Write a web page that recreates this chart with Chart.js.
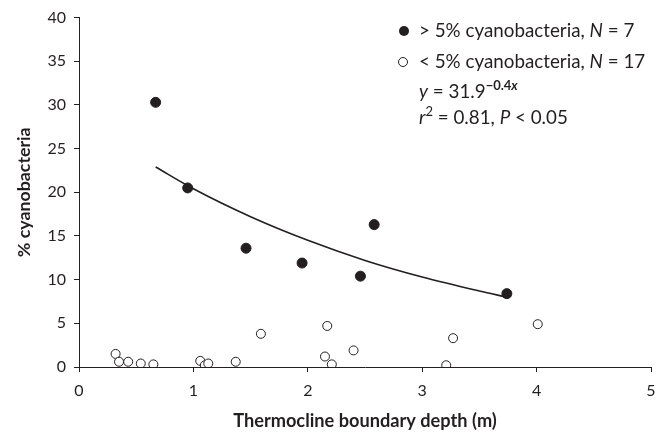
<!DOCTYPE html>
<html>
<head>
<meta charset="utf-8">
<script src="https://cdn.jsdelivr.net/npm/chart.js@4.4.1/dist/chart.umd.min.js"></script>
<style>
  html, body { margin: 0; padding: 0; background: #fff; }
  #wrap { width: 667px; height: 433px; }
</style>
</head>
<body>
<div id="wrap"><canvas id="cyanoChart" width="667" height="433"></canvas></div>
<script>
// lakes with > 5% cyanobacteria
const highDepth = [0.67, 0.95, 1.46, 1.95, 2.46, 2.58, 3.74];
const highPct = [30.3, 20.5, 13.6, 11.9, 10.4, 16.3, 8.4];

// lakes with < 5% cyanobacteria
const lowDepth = [0.32, 0.35, 0.43, 0.54, 0.65, 1.06, 1.10, 1.13, 1.37, 1.59, 2.15, 2.17, 2.21, 2.40, 3.21, 3.27, 4.01];
const lowPct = [1.5, 0.6, 0.6, 0.4, 0.3, 0.7, 0.2, 0.4, 0.6, 3.8, 1.2, 4.7, 0.3, 1.9, 0.2, 3.3, 4.9];

// fitted curve
const fitDepth = [0.67, 1.0, 1.5, 2.0, 2.5, 3.0, 3.5, 3.74];
const fitPct = [22.9, 20.4, 17.2, 14.5, 12.2, 10.3, 8.7, 8.0];

const toXY = (xs, ys) => xs.map((x, i) => ({ x: x, y: ys[i] }));

const FONT = 'Lato, "Open Sans", sans-serif';
const INK = '#231f20';
const X_TITLE = 'Thermocline boundary depth (m)';
const Y_TITLE = '% cyanobacteria';

// pick a font size so the text spans about the same width as in the original
const measure = document.createElement('canvas').getContext('2d');
function fitSize(text, weight, width) {
  measure.font = weight + ' 20px ' + FONT;
  return Math.round(20 * width / measure.measureText(text).width * 10) / 10;
}
const xTitleSize = fitSize(X_TITLE, 'bold', 264);
const yTitleSize = fitSize(Y_TITLE, 'bold', 130);
const legendSize = fitSize('> 5% cyanobacteria, N = 7', 'normal', 216);

// legend + equation drawn as text in the top right corner
const legendText = {
  id: 'legendText',
  afterDraw(chart) {
    const ctx = chart.ctx;
    ctx.save();
    ctx.fillStyle = INK;
    ctx.strokeStyle = INK;
    ctx.textBaseline = 'middle';
    const size = legendSize;
    const sup = Math.round(size * 0.7);
    const run = (parts, x, y) => {
      parts.forEach(p => {
        const s = p.size || size;
        ctx.font = (p.italic ? 'italic ' : '') + (p.bold ? 'bold ' : '') + s + 'px ' + FONT;
        ctx.fillText(p.t, x, y + (p.dy || 0));
        x += ctx.measureText(p.t).width;
      });
    };
    const tx = 419;
    // filled marker
    ctx.beginPath();
    ctx.arc(404, 31, 5, 0, Math.PI * 2);
    ctx.fill();
    run([{ t: '> 5% cyanobacteria, ' }, { t: 'N', italic: true }, { t: ' = 7' }], tx, 31);
    // open marker
    ctx.beginPath();
    ctx.lineWidth = 1;
    ctx.arc(403, 62, 4.5, 0, Math.PI * 2);
    ctx.stroke();
    run([{ t: '< 5% cyanobacteria, ' }, { t: 'N', italic: true }, { t: ' = 17' }], tx, 62);
    run([{ t: 'y', italic: true }, { t: ' = 31.9' },
         { t: '\u22120.4', bold: true, size: sup, dy: -6 },
         { t: 'x', bold: true, italic: true, size: sup, dy: -6 }], tx, 92);
    run([{ t: 'r', italic: true }, { t: '2', size: sup, dy: -6 }, { t: ' = 0.81, ' },
         { t: 'P', italic: true }, { t: ' < 0.05' }], tx, 118);
    ctx.restore();
  }
};

const ctx = document.getElementById('cyanoChart').getContext('2d');
const cyanoChart = new Chart(ctx, {
  type: 'scatter',
  data: {
    datasets: [
      {
        label: '> 5% cyanobacteria',
        data: toXY(highDepth, highPct),
        pointRadius: 5,
        pointBackgroundColor: INK,
        pointBorderColor: INK,
        pointBorderWidth: 1,
        order: 1
      },
      {
        label: '< 5% cyanobacteria',
        data: toXY(lowDepth, lowPct),
        pointRadius: 4.5,
        pointBackgroundColor: '#fff',
        pointBorderColor: INK,
        pointBorderWidth: 1,
        order: 1
      },
      {
        label: 'fit',
        type: 'line',
        data: toXY(fitDepth, fitPct),
        borderColor: INK,
        borderWidth: 1.6,
        pointRadius: 0,
        fill: false,
        cubicInterpolationMode: 'monotone',
        order: 2
      }
    ]
  },
  options: {
    responsive: false,
    animation: false,
    devicePixelRatio: 1,
    layout: { padding: { left: 0, top: 16, right: 16, bottom: 0 } },
    plugins: {
      legend: { display: false },
      tooltip: { enabled: false }
    },
    scales: {
      x: {
        type: 'linear',
        min: 0,
        max: 5,
        ticks: { stepSize: 1, color: INK, padding: 9, font: { family: FONT, size: 16 } },
        grid: { drawOnChartArea: false, drawTicks: true, tickLength: 5, color: INK },
        border: { color: INK, width: 1 },
        title: {
          display: true,
          text: X_TITLE,
          color: INK,
          padding: { top: 0, bottom: 1 },
          font: { family: FONT, size: xTitleSize, weight: 'bold' }
        },
        afterFit(scale) { scale.height = 66; }
      },
      y: {
        min: 0,
        max: 40,
        ticks: { stepSize: 5, color: INK, padding: 8, font: { family: FONT, size: 16 } },
        grid: { drawOnChartArea: false, drawTicks: true, tickLength: 5, color: INK },
        border: { color: INK, width: 1 },
        title: {
          display: true,
          text: Y_TITLE,
          color: INK,
          padding: { top: 14, bottom: 0 },
          font: { family: FONT, size: yTitleSize, weight: 'bold' }
        },
        afterFit(scale) { scale.width = 79; }
      }
    }
  },
  plugins: [legendText]
});
</script>
</body>
</html>
